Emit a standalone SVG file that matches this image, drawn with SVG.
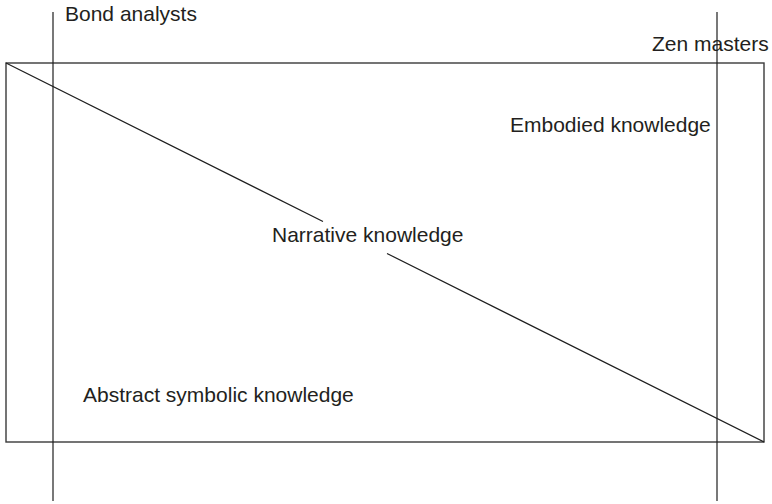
<svg xmlns="http://www.w3.org/2000/svg" width="772" height="504" viewBox="0 0 772 504">
  <style>
    .frame { fill: none; stroke: #3a3a3a; stroke-width: 1.4; }
    .axis { fill: none; stroke: #1e1e1e; stroke-width: 1.2; }
    .label { font-family: "Liberation Sans", Arial, sans-serif; font-size: 21px; fill: #231f20; }
  </style>
  <rect width="772" height="504" fill="#ffffff"/>

  <!-- knowledge space: frame and dividing diagonal -->
  <g id="frame">
    <rect class="frame" x="6" y="63" width="758" height="379"/>
  </g>

  <g id="connectors">
    <line class="axis" x1="6" y1="63" x2="323" y2="221.5"/>
    <line class="axis" x1="387" y1="253.5" x2="764" y2="442"/>
    <line class="axis" x1="53" y1="12" x2="53" y2="501"/>
    <line class="axis" x1="717" y1="12" x2="717" y2="501"/>
  </g>

  <g id="bond-analysts">
    <text class="label" x="65" y="21">Bond analysts</text>
  </g>
  <g id="zen-masters">
    <text class="label" x="652" y="51">Zen masters</text>
  </g>
  <g id="embodied-knowledge">
    <text class="label" x="510" y="131.5">Embodied knowledge</text>
  </g>
  <g id="narrative-knowledge">
    <text class="label" x="272" y="242">Narrative knowledge</text>
  </g>
  <g id="abstract-symbolic-knowledge">
    <text class="label" x="83" y="401.5">Abstract symbolic knowledge</text>
  </g>
</svg>
